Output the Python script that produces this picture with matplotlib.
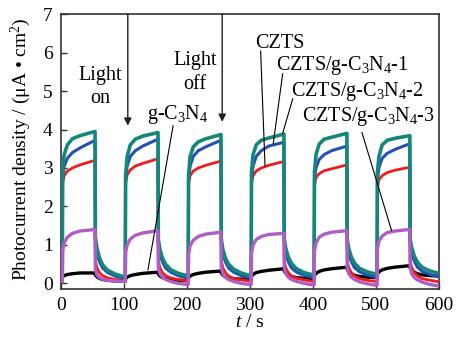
import matplotlib
matplotlib.use("Agg")
import matplotlib.pyplot as plt
import numpy as np

plt.rcParams['font.family'] = ['Liberation Serif', 'DejaVu Serif']
plt.rcParams['mathtext.fontset'] = 'custom'
plt.rcParams['mathtext.rm'] = 'Liberation Serif'
plt.rcParams['mathtext.it'] = 'Liberation Serif:italic'

# light on/off cycles, each 100 s long
cycle_starts = [0, 100, 200, 300, 400, 500]
rel_t = [0, 2, 2.5, 5, 10, 18, 30, 54, 54.5, 57, 61, 66, 74, 86, 100]

# photocurrent (uA/cm2) read per cycle at rel_t
g_c3n4 = [
    [0.15, 0.15, 0.18, 0.20, 0.23, 0.25, 0.27, 0.27, 0.22, 0.17, 0.13, 0.10, 0.08, 0.06, 0.05],
    [0.05, 0.05, 0.12, 0.16, 0.20, 0.23, 0.26, 0.29, 0.24, 0.19, 0.15, 0.12, 0.10, 0.08, 0.07],
    [0.07, 0.07, 0.14, 0.19, 0.23, 0.26, 0.29, 0.32, 0.27, 0.22, 0.17, 0.14, 0.12, 0.11, 0.10],
    [0.10, 0.10, 0.18, 0.23, 0.28, 0.31, 0.34, 0.38, 0.32, 0.26, 0.21, 0.18, 0.15, 0.13, 0.12],
    [0.12, 0.12, 0.20, 0.26, 0.31, 0.35, 0.38, 0.42, 0.36, 0.30, 0.25, 0.21, 0.18, 0.16, 0.15],
    [0.15, 0.15, 0.24, 0.30, 0.35, 0.39, 0.42, 0.46, 0.40, 0.34, 0.29, 0.25, 0.22, 0.20, 0.19],
]
czts = [
    [0.05, 0.05, 2.60, 2.80, 2.92, 3.00, 3.08, 3.20, 0.60, 0.40, 0.28, 0.20, 0.14, 0.10, 0.07],
    [0.07, 0.07, 2.60, 2.82, 2.95, 3.05, 3.12, 3.24, 0.60, 0.40, 0.28, 0.20, 0.14, 0.10, 0.07],
    [0.07, 0.07, 2.60, 2.80, 2.92, 3.00, 3.07, 3.18, 0.60, 0.40, 0.28, 0.19, 0.13, 0.09, 0.06],
    [0.06, 0.06, 2.60, 2.80, 2.92, 3.00, 3.07, 3.17, 0.60, 0.40, 0.28, 0.19, 0.13, 0.09, 0.05],
    [0.05, 0.05, 2.55, 2.75, 2.85, 2.93, 2.98, 3.08, 0.60, 0.40, 0.28, 0.19, 0.12, 0.08, 0.05],
    [0.05, 0.05, 2.50, 2.70, 2.80, 2.88, 2.94, 3.02, 0.60, 0.40, 0.28, 0.19, 0.12, 0.08, 0.04],
]
czts_1 = [
    [0.10, 0.10, 2.80, 3.05, 3.25, 3.40, 3.52, 3.72, 1.05, 0.78, 0.56, 0.40, 0.28, 0.19, 0.12],
    [0.12, 0.12, 2.70, 3.05, 3.30, 3.45, 3.57, 3.75, 1.00, 0.76, 0.56, 0.40, 0.29, 0.20, 0.14],
    [0.14, 0.14, 2.70, 3.05, 3.30, 3.45, 3.55, 3.72, 1.00, 0.76, 0.56, 0.40, 0.29, 0.20, 0.14],
    [0.14, 0.14, 2.70, 3.05, 3.30, 3.45, 3.57, 3.67, 1.00, 0.76, 0.56, 0.40, 0.29, 0.21, 0.15],
    [0.15, 0.15, 2.70, 3.00, 3.22, 3.35, 3.45, 3.57, 1.00, 0.76, 0.57, 0.41, 0.30, 0.22, 0.16],
    [0.16, 0.16, 2.70, 3.02, 3.25, 3.38, 3.48, 3.63, 1.00, 0.76, 0.58, 0.42, 0.31, 0.23, 0.17],
]
czts_2 = [
    [0.12, 0.12, 3.00, 3.35, 3.60, 3.76, 3.84, 3.95, 1.20, 0.92, 0.66, 0.48, 0.34, 0.24, 0.17],
    [0.17, 0.17, 2.80, 3.30, 3.60, 3.75, 3.83, 3.92, 1.15, 0.88, 0.66, 0.50, 0.36, 0.26, 0.20],
    [0.20, 0.20, 2.80, 3.30, 3.55, 3.68, 3.76, 3.87, 1.15, 0.88, 0.66, 0.50, 0.37, 0.27, 0.20],
    [0.20, 0.20, 2.90, 3.35, 3.60, 3.72, 3.78, 3.88, 1.15, 0.90, 0.68, 0.52, 0.38, 0.28, 0.22],
    [0.22, 0.22, 2.90, 3.35, 3.62, 3.75, 3.80, 3.90, 1.15, 0.90, 0.69, 0.53, 0.39, 0.30, 0.24],
    [0.24, 0.24, 2.90, 3.30, 3.60, 3.72, 3.77, 3.84, 1.15, 0.92, 0.71, 0.55, 0.41, 0.32, 0.26],
]
czts_3 = [
    [0.05, 0.05, 0.85, 1.05, 1.20, 1.30, 1.36, 1.40, 0.35, 0.22, 0.15, 0.11, 0.08, 0.06, 0.05],
    [0.05, 0.05, 0.80, 1.00, 1.15, 1.25, 1.31, 1.37, 0.40, 0.25, 0.16, 0.10, 0.05, 0.00, -0.03],
    [-0.03, -0.03, 0.75, 0.98, 1.12, 1.22, 1.28, 1.33, 0.40, 0.25, 0.16, 0.10, 0.05, 0.00, -0.03],
    [-0.03, -0.03, 0.80, 1.00, 1.14, 1.22, 1.27, 1.30, 0.40, 0.25, 0.16, 0.10, 0.05, 0.00, -0.04],
    [-0.04, -0.04, 0.85, 1.05, 1.20, 1.28, 1.33, 1.37, 0.40, 0.25, 0.16, 0.10, 0.04, -0.01, -0.05],
    [-0.05, -0.05, 0.90, 1.10, 1.23, 1.32, 1.36, 1.40, 0.40, 0.25, 0.15, 0.09, 0.03, -0.03, -0.07],
]

t = np.concatenate([np.array(rel_t) + s for s in cycle_starts])

fig = plt.figure(figsize=(4.59, 3.45), dpi=100)
ax = fig.add_axes([0.133, 0.162, 0.823, 0.797])

ax.plot(t, np.concatenate(g_c3n4), color='black', lw=2.4, zorder=2)
ax.plot(t, np.concatenate(czts), color='#f01c1c', lw=2.0, zorder=3)
ax.plot(t, np.concatenate(czts_1), color='#2350b4', lw=2.2, zorder=4)
ax.plot(t, np.concatenate(czts_2), color='#14877a', lw=2.6, zorder=5)
ax.plot(t, np.concatenate(czts_3), color='#b05ec4', lw=2.4, zorder=6)

ax.set_xlim(0, 600)
ax.set_ylim(-0.15, 7)
ax.set_xticks([0, 100, 200, 300, 400, 500, 600])
ax.set_yticks([0, 1, 2, 3, 4, 5, 6, 7])
ax.tick_params(direction='in', length=4, width=1, labelsize=14, pad=6, color='#333333')
for sp in ax.spines.values():
    sp.set_color('#333333')
    sp.set_linewidth(1.2)

ax.set_xlabel('$\\it{t}$ / s', fontsize=14, labelpad=0)
ax.set_ylabel('Photocurrent density / (μA • cm$^2$)', fontsize=14)
ax.yaxis.set_label_coords(-0.075, 0.51)

fs = 14.5
arrow = dict(arrowstyle='-|>', color='#222222', lw=1.0, mutation_scale=11, shrinkA=0, shrinkB=0)
ax.annotate('', xy=(106, 4.1), xytext=(106, 7), arrowprops=arrow)
ax.annotate('', xy=(256, 4.2), xytext=(256, 7), arrowprops=arrow)
ax.text(62, 5.3, 'Light', fontsize=fs, ha='center', va='baseline')
ax.text(62, 4.7, 'on', fontsize=fs, ha='center', va='baseline')
ax.text(213, 5.67, 'Light', fontsize=fs, ha='center', va='baseline')
ax.text(213, 5.06, 'off', fontsize=fs, ha='center', va='baseline')

lead = dict(color='black', lw=0.8)
ax.text(186, 4.28, 'g-C$_3$N$_4$', fontsize=fs, ha='center', va='baseline')
ax.plot([178, 138], [4.1, 0.35], **lead, zorder=7)
ax.text(347, 6.11, 'CZTS', fontsize=fs, ha='center', va='baseline')
ax.plot([317, 324], [6.04, 3.05], **lead, zorder=7)
ax.text(446, 5.54, 'CZTS/g-C$_3$N$_4$-1', fontsize=fs, ha='center', va='baseline')
ax.plot([352, 337], [5.45, 3.63], **lead, zorder=7)
ax.text(471, 4.88, 'CZTS/g-C$_3$N$_4$-2', fontsize=fs, ha='center', va='baseline')
ax.plot([368, 352], [4.8, 3.9], **lead, zorder=7)
ax.text(489, 4.23, 'CZTS/g-C$_3$N$_4$-3', fontsize=fs, ha='center', va='baseline')
ax.plot([478, 525], [3.92, 1.37], **lead, zorder=7)

fig.savefig('out.png', dpi=100)
